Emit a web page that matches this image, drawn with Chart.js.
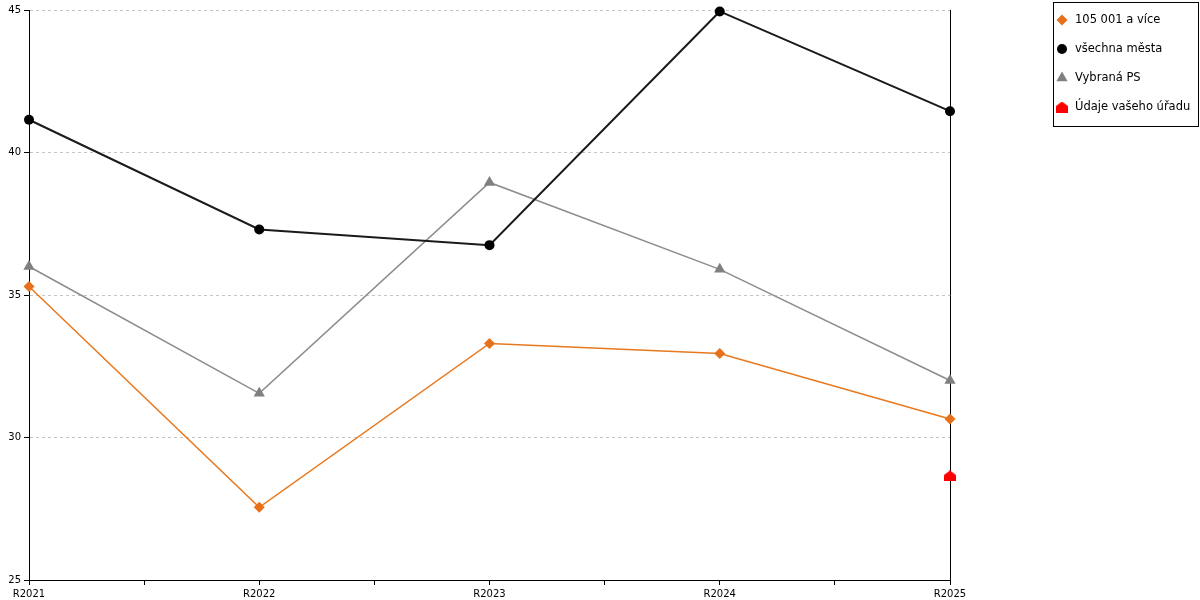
<!DOCTYPE html>
<html lang="cs">
<head>
  <meta charset="UTF-8">
  <title>Srovnání R2021 - R2025</title>
  <style>
    html, body { margin: 0; padding: 0; background: #fff; }
  </style>
</head>
<body>
  <canvas id="lineChart" width="1200" height="600"></canvas>
  <script src="https://cdn.jsdelivr.net/npm/chart.js@4"></script>
  <script>
    // data
    const categories = ['R2021', 'R2022', 'R2023', 'R2024', 'R2025'];
    const seriesNames = ['105 001 a více', 'všechna města', 'Vybraná PS', 'Údaje vašeho úřadu'];
    const bigCities = [35.3, 27.55, 33.3, 32.95, 30.65];
    const allCities = [41.15, 37.3, 36.75, 44.95, 41.45];
    const selectedPS = [36.0, 31.55, 38.95, 35.9, 32.0];
    const yourOffice = [null, null, null, null, 28.65];
    const yTicks = [25, 30, 35, 40, 45];

    // red "house" marker, no built-in style for it
    const house = document.createElement('canvas');
    house.width = 12;
    house.height = 11;
    const hctx = house.getContext('2d');
    hctx.fillStyle = '#ff0000';
    hctx.beginPath();
    hctx.moveTo(6, 0);
    hctx.lineTo(12, 4.5);
    hctx.lineTo(12, 11);
    hctx.lineTo(0, 11);
    hctx.lineTo(0, 4.5);
    hctx.closePath();
    hctx.fill();

    const toPoints = values => values.map((v, i) => ({ x: i, y: v }));

    // legend with a frame, drawn right of the plot
    const boxLegend = {
      id: 'boxLegend',
      afterDraw(chart) {
        const ctx = chart.ctx;
        const left = chart.chartArea.right + 103;
        const top = 2;
        ctx.save();
        ctx.strokeStyle = '#000';
        ctx.lineWidth = 1;
        ctx.strokeRect(left + 0.5, top + 0.5, 145, 124);
        ctx.font = '11.5px "DejaVu Sans"';
        ctx.textBaseline = 'middle';
        chart.data.datasets.forEach((ds, i) => {
          const y = top + 18 + i * 29;
          ctx.fillStyle = ds.pointBackgroundColor;
          Chart.helpers.drawPoint(ctx, {
            pointStyle: ds.pointStyle,
            radius: ds.pointRadius,
            rotation: 0,
            borderWidth: 0
          }, left + 9, y);
          ctx.fillStyle = '#000';
          ctx.fillText(ds.label, left + 22, y);
        });
        ctx.restore();
      }
    };

    Chart.defaults.font.family = '"DejaVu Sans", Verdana, sans-serif';
    Chart.defaults.font.size = 10;
    Chart.defaults.color = '#000';

    new Chart(document.getElementById('lineChart'), {
      type: 'line',
      data: {
        datasets: [{
          label: seriesNames[0],
          data: toPoints(bigCities),
          borderColor: '#e8781e',
          borderWidth: 1.5,
          pointStyle: 'rectRot',
          pointRadius: 5.5,
          pointBorderWidth: 0,
          pointBackgroundColor: '#e8701a'
        }, {
          label: seriesNames[1],
          data: toPoints(allCities),
          borderColor: '#1a1a1a',
          borderWidth: 2,
          pointStyle: 'circle',
          pointRadius: 5,
          pointBorderWidth: 0,
          pointBackgroundColor: '#000'
        }, {
          label: seriesNames[2],
          data: toPoints(selectedPS),
          borderColor: '#8c8c8c',
          borderWidth: 1.5,
          pointStyle: 'triangle',
          pointRadius: 6.5,
          pointBorderWidth: 0,
          pointBackgroundColor: '#808080'
        }, {
          label: seriesNames[3],
          data: toPoints(yourOffice),
          showLine: false,
          pointStyle: house,
          pointRadius: 6,
          pointBorderWidth: 0,
          pointBackgroundColor: '#ff0000'
        }]
      },
      options: {
        responsive: false,
        animation: false,
        clip: false,
        elements: { line: { tension: 0 } },
        layout: { padding: { top: 10, right: 250, left: 0, bottom: 0 } },
        plugins: {
          legend: { display: false },
          tooltip: { enabled: false }
        },
        scales: {
          x: {
            type: 'linear',
            min: 0,
            max: categories.length - 1,
            afterFit(scale) { scale.height = 20; },
            ticks: {
              stepSize: 0.5,
              autoSkip: false,
              maxRotation: 0,
              padding: 3,
              callback: v => Number.isInteger(v) ? categories[v] : ''
            },
            grid: { drawOnChartArea: false, color: '#000', tickLength: 5 },
            border: { color: '#000' }
          },
          y: {
            min: yTicks[0],
            max: yTicks[yTicks.length - 1],
            afterFit(scale) { scale.width = 29; },
            ticks: { stepSize: yTicks[1] - yTicks[0], padding: 3 },
            grid: {
              color: c => c.tick && c.tick.value === yTicks[0] ? 'rgba(0,0,0,0)' : '#c4c4c4',
              tickColor: '#000',
              tickLength: 5
            },
            border: { color: '#000', dash: [3, 3] }
          },
          y2: {
            position: 'right',
            afterFit(scale) { scale.width = 0; },
            ticks: { display: false },
            grid: { display: false },
            border: { color: '#000' }
          }
        }
      },
      plugins: [boxLegend]
    });
  </script>
</body>
</html>
